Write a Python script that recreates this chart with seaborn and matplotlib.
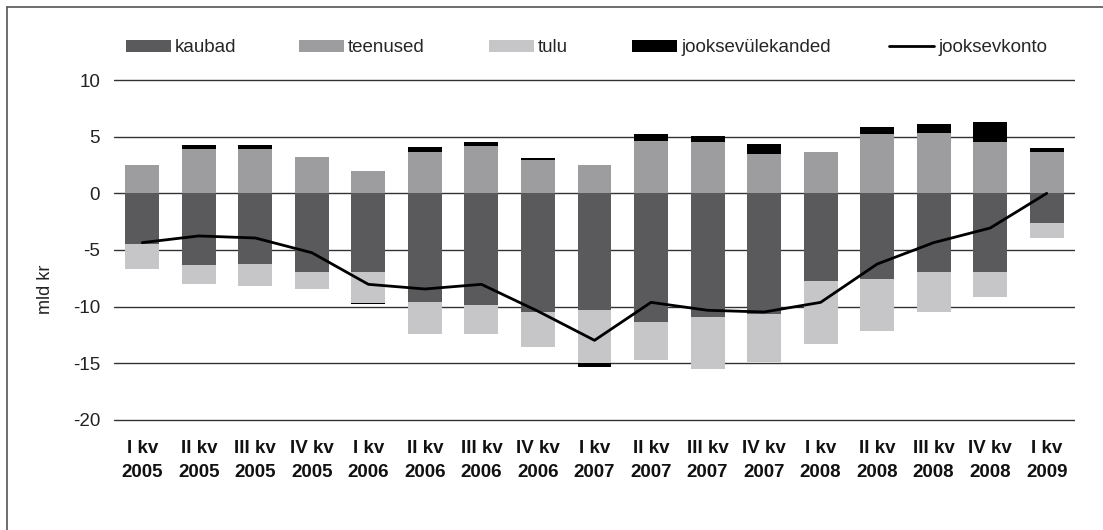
import numpy as np
import matplotlib
matplotlib.use("Agg")
import matplotlib.pyplot as plt
import seaborn as sns
import pandas as pd
from matplotlib.lines import Line2D
from matplotlib.patches import Patch

# quarters
quarters = ["I kv\n2005", "II kv\n2005", "III kv\n2005", "IV kv\n2005",
            "I kv\n2006", "II kv\n2006", "III kv\n2006", "IV kv\n2006",
            "I kv\n2007", "II kv\n2007", "III kv\n2007", "IV kv\n2007",
            "I kv\n2008", "II kv\n2008", "III kv\n2008", "IV kv\n2008",
            "I kv\n2009"]

# components, mld kr
kaubad = [-4.5, -6.35, -6.26, -6.94, -6.94, -9.62, -9.88, -10.47, -10.3,
          -11.38, -10.91, -10.68, -7.74, -7.56, -6.94, -6.94, -2.65]
teenused = [2.47, 3.88, 3.88, 3.18, 1.94, 3.62, 4.15, 2.91, 2.47,
            4.62, 4.53, 3.44, 3.62, 5.2, 5.29, 4.5, 3.62]
tulu = [-2.2, -1.68, -1.94, -1.53, -2.71, -2.82, -2.56, -3.09, -4.7,
        -3.32, -4.59, -4.22, -5.56, -4.59, -3.53, -2.21, -1.32]
jooksevulekanded = [0.0, 0.36, 0.36, 0.0, -0.15, 0.44, 0.35, 0.18, -0.3,
                    0.58, 0.56, 0.88, 0.0, 0.62, 0.8, 1.79, 0.35]
jooksevkonto = [-4.35, -3.76, -3.94, -5.24, -8.03, -8.44, -8.03, -10.4, -12.97,
                -9.62, -10.32, -10.47, -9.62, -6.24, -4.35, -3.06, 0.0]

colors = {
    "kaubad": "#5a5a5c",
    "teenused": "#9d9d9f",
    "tulu": "#c6c6c8",
    "jooksevülekanded": "#000000",
}

sns.set_theme(style="white")
plt.rcParams["font.family"] = ["Liberation Sans", "DejaVu Sans"]
FS = 13.5

W, H = 1103, 530
fig = plt.figure(figsize=(W / 100, H / 100), dpi=100)
# a little headroom so the -20 and 10 gridlines are not cut in half
ax = fig.add_axes([114 / W, 1 - 421.5 / H, (1075 - 114) / W, (421.5 - 78.5) / H])

df = pd.DataFrame({
    "pos": np.arange(len(quarters)),
    "kaubad": kaubad,
    "teenused": teenused,
    "tulu": tulu,
    "jooksevülekanded": jooksevulekanded,
    "jooksevkonto": jooksevkonto,
})

# stacked bars: positives go up from 0, negatives go down from 0
pos_base = np.zeros(len(df))
neg_base = np.zeros(len(df))
bar_w = 0.6
for col in ["kaubad", "teenused", "tulu", "jooksevülekanded"]:
    vals = df[col].to_numpy()
    bottoms = np.where(vals >= 0, pos_base, neg_base)
    ax.bar(df["pos"], vals, bottom=bottoms, width=bar_w, color=colors[col],
           linewidth=0, zorder=2)
    pos_base = pos_base + np.where(vals >= 0, vals, 0)
    neg_base = neg_base + np.where(vals < 0, vals, 0)

sns.lineplot(data=df, x="pos", y="jooksevkonto", color="black", linewidth=2.0,
             ax=ax, zorder=3, legend=False)

pad_u = 1.5 / 11.333
ax.set_xlim(-0.5, len(quarters) - 0.5)
ax.set_ylim(-20 - pad_u, 10 + pad_u)
ax.set_yticks(np.arange(-20, 11, 5))
ax.set_yticklabels([str(v) for v in range(-20, 11, 5)], fontsize=FS, color="#222222")
ax.set_xticks(df["pos"])
ax.set_xticklabels(quarters, fontsize=FS, fontweight="bold", linespacing=1.55,
                   color="#111111")
ax.tick_params(axis="both", length=0)
ax.tick_params(axis="x", pad=13)
ax.tick_params(axis="y", pad=10)
ax.set_xlabel("")
ax.set_ylabel("")
for s in ax.spines.values():
    s.set_visible(False)
ax.yaxis.grid(True, color="#333333", linewidth=1.0, zorder=0)
ax.xaxis.grid(False)
ax.set_axisbelow(True)

fig.text(45 / W, 1 - 289 / H, "mld kr", rotation=90, ha="center", va="center",
         fontsize=13, color="#222222")

# legend entries sit at uneven spacing in the original, so place each one
handles = [Patch(facecolor=colors[k], edgecolor="none", label=k)
           for k in ["kaubad", "teenused", "tulu", "jooksevülekanded"]]
handles.append(Line2D([0], [0], color="black", linewidth=2.0, label="jooksevkonto"))
legend_x = [126, 299, 489, 632, 889]
for h, lx in zip(handles, legend_x):
    fig.legend(handles=[h], loc="center left", bbox_to_anchor=(lx / W, 1 - 48 / H),
               frameon=False, fontsize=FS, handlelength=2.4, handleheight=0.56,
               handletextpad=0.22, borderpad=0, borderaxespad=0)

# outer frame (only top and left visible in the original crop)
fig.add_artist(Line2D([7 / W, 1.0], [1 - 7 / H, 1 - 7 / H], color="#555555",
                      linewidth=1.2, transform=fig.transFigure))
fig.add_artist(Line2D([7 / W, 7 / W], [0.0, 1 - 7 / H], color="#555555",
                      linewidth=1.2, transform=fig.transFigure))

fig.savefig("out.png", dpi=100, facecolor="white")
